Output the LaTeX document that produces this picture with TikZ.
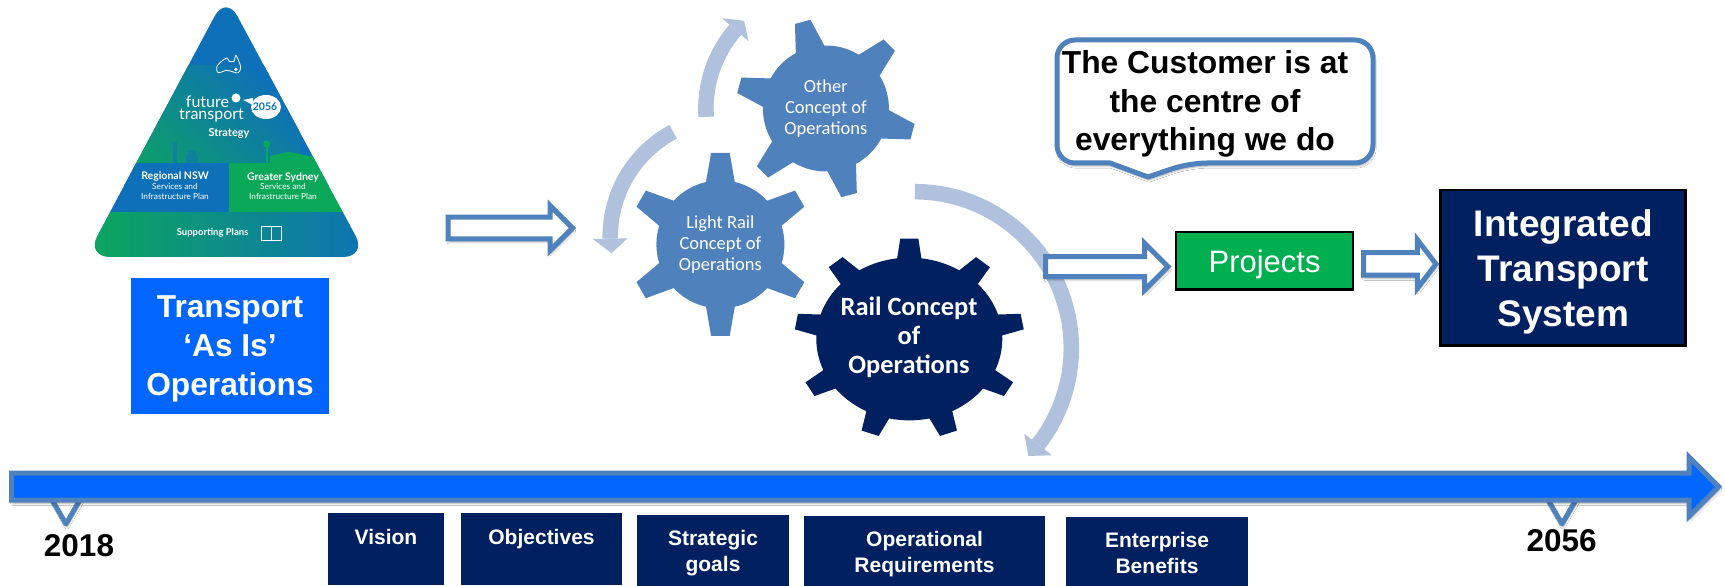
\documentclass[tikz,border=0pt]{standalone}
\usepackage{fontspec}
\setmainfont{Liberation Sans}
\newfontfamily\gearfont{Carlito}
\newfontfamily\logofont{Lato}
\usetikzlibrary{positioning,shapes.arrows,shadows.blur}

\definecolor{navy}{HTML}{002060}
\definecolor{steel}{HTML}{4F81BD}
\definecolor{pale}{HTML}{B0C1DD}
\definecolor{brightblue}{HTML}{0066FF}
\definecolor{projgreen}{HTML}{00B050}
\definecolor{logoblue}{HTML}{0E70B8}
\definecolor{logogreen}{HTML}{0CA85A}

\tikzset{
  softshadow/.style={blur shadow={shadow xshift=1pt,shadow yshift=-3pt,shadow blur steps=6,shadow opacity=35}},
  hollow/.style={single arrow,draw=steel,fill=white,line width=5pt,inner xsep=0pt,outer sep=0pt,
    single arrow head indent=0pt,softshadow,anchor=tail},
  darkbox/.style={fill=navy,inner sep=0pt,outer sep=0pt,minimum height=70pt},
  boxtext/.style={text=white,align=center,inner sep=0pt,font=\bfseries\fontsize{21}{26}\selectfont},
  yearlabel/.style={font=\bfseries\fontsize{31.5}{36}\selectfont},
  lightcog/.style={fill=steel},
  darkcog/.style={fill=navy},
  coglabel/.style={text=white,align=center,font=\gearfont\fontsize{18.5}{21}\selectfont},
  flowline/.style={draw=pale,line width=15.5pt},
  tickmark/.style={draw=steel,fill=white,line width=5pt,line join=round,softshadow},
  logotext/.style={text=white,align=center,inner sep=0pt}
}

% style, teeth, last tooth, start angle, body radius, tip radius, base half angle, tip half angle
\newcommand{\cogwheel}[8]{
  \fill[#1] (#4-#7:#5) \foreach \cog [evaluate=\cog as \ang using #4+\cog*360/#2] in {0,...,#3} {
    -- (\ang-#8:#6) -- (\ang+#8:#6) -- (\ang+#7:#5)
    arc[start angle=\ang+#7,end angle=\ang+360/#2-#7,radius=#5]
  } -- cycle;
}
% x, y, radius, from, to, tip
\newcommand{\flowarc}[6]{
  \begin{scope}[shift={(#1,#2)}]
    \draw[flowline] (#4:#3) arc[start angle=#4,end angle=#5,radius=#3];
    \fill[pale] (#5:#3+17.5) -- (#6:#3) -- (#5:#3-17.5) -- cycle;
  \end{scope}
}

\begin{document}
\begin{tikzpicture}[x=1pt,y=1pt]
  \useasboundingbox (0,0) rectangle (1725,586);
  \fill[white] (0,0) rectangle (1725,586);

  % strategy triangle
  \begin{scope}
    \clip (0,0) rectangle (362,586);
    \clip[rounded corners=24pt] (86,329) -- (226,591) -- (367,329) -- cycle;
    \fill[logoblue] (60,400) rectangle (380,600);
    \shade[bottom color=logogreen!85!logoblue,top color=logoblue,shading angle=-45] (100,415) rectangle (300,520);
    \fill[logogreen!85!logoblue] (60,400) rectangle (125,445);
    \fill[logoblue] (80,373) rectangle (229.3,423);
    \fill[logogreen] (229.3,373) rectangle (380,423);
    \shade[left color=logogreen,right color=logoblue] (80,329) rectangle (380,373);
    % skyline
    \fill[logogreen] (265.8,423) rectangle (267.6,440);
    \fill[logogreen] (266.7,442) circle (3.5pt);
    \fill[logogreen] (270,423) -- (270,430) -- (280,432) -- (288,434) -- (300,432) -- (318,428) -- (323,423) -- cycle;
    \fill[logoblue!70!logogreen] (173,423) rectangle (177,444);
    \fill[logoblue!70!logogreen] (186,423) rectangle (198,431);
    \fill[logoblue!70!logogreen] (192,431) circle (5pt);
  \end{scope}
  \draw[white,line width=.8pt] plot[smooth cycle] coordinates {(216.7,519) (220.7,524) (226.7,528) (229.3,524.7) (234,524.7) (236,530.7) (240.7,519) (238.3,513.3) (233.3,514) (226.7,515.7) (218.3,513.3)};
  \fill[white] (235.8,516.5) circle (1.8pt);
  \fill[white] (266,479) ellipse (15pt and 12pt);
  \fill[white] (236,488) circle (4.5pt);
  \fill[white] (253,481) -- (243,486) -- (253,488) -- cycle;
  \node[logotext,font=\logofont\fontsize{16}{12}\selectfont] (logoword) at (211.5,477) {future\kern8pt\\transport};
  \node[logotext,text=logoblue,font=\logofont\bfseries\fontsize{10.5}{12}\selectfont] (logoyear) at (265,479) {2056};
  \node[logotext,font=\logofont\bfseries\fontsize{11}{12}\selectfont] (strategyword) at (229,453) {Strategy};
  \node[logotext,font=\logofont\bfseries\fontsize{10.5}{12}\selectfont] (regionalword) at (175,409) {Regional NSW};
  \node[logotext,font=\logofont\fontsize{8.3}{9.5}\selectfont] (regionalplan) at (175,394.5) {Services and\\Infrastructure Plan};
  \node[logotext,font=\logofont\bfseries\fontsize{10.5}{12}\selectfont] (sydneyword) at (283,409) {Greater Sydney};
  \node[logotext,font=\logofont\fontsize{8.3}{9.5}\selectfont] (sydneyplan) at (283,394.5) {Services and\\Infrastructure Plan};
  \node[logotext,font=\logofont\bfseries\fontsize{9.5}{12}\selectfont] (supportword) at (212.6,353) {Supporting Plans};
  \draw[white,line width=.7pt] (261,346) rectangle (271,360) (271,346) rectangle (281,360);

  \node[fill=brightblue,inner sep=0pt,outer sep=0pt,minimum width=198pt,minimum height=136pt] (asis) at (230,240) {};
  \node[boxtext,font=\bfseries\fontsize{31.7}{39}\selectfont,yshift=-3pt] (asistext) at (asis) {Transport\\‘As Is’\\Operations};

  \node[hollow,inner ysep=8.35pt,minimum height=124.5pt,minimum width=44pt,single arrow head extend=11.6pt] (intoconcepts) at (448,358) {};

  % circular arrows
  \flowarc{914.8}{237.8}{156.5}{90}{-38}{-43.5}
  \flowarc{728.9}{349.4}{118.7}{118}{181}{188}
  \flowarc{825.9}{477.5}{120}{184}{139}{133}

  % gears
  \cogwheel{lightcog,shift={(825.9,477.5)}}{6}{5}{105}{63}{90}{13.5}{5.1}
  \cogwheel{lightcog,shift={(720.4,341.6)}}{6}{5}{90}{64}{92}{13}{5.8}
  \cogwheel{darkcog,shift={(909.3,247)},yscale=.875}{9}{8}{90}{93}{115}{7.5}{4.5}
  \node[coglabel] (othercog) at (825.9,477.5) {Other\\Concept of\\Operations};
  \node[coglabel] (lightrailcog) at (720.4,341.6) {Light Rail\\Concept of\\Operations};
  \node[coglabel,font=\gearfont\bfseries\fontsize{26.4}{29}\selectfont] (railcog) at (909,249) {Rail Concept\\of\\Operations};

  % customer bubble
  \draw[draw=steel,fill=white,line width=5pt,softshadow] [rounded corners=18pt] (1110,423) -- (1057,423) -- (1057,546) -- (1373,546) -- (1373,423) -- (1189,423) [sharp corners] -- (1148,409) -- cycle;
  \node[font=\bfseries\fontsize{31.8}{38.5}\selectfont,align=center] (customer) at (1205,482) {The Customer is at\\the centre of\\everything we do};

  \node[hollow,inner ysep=7.5pt,minimum height=122.5pt,minimum width=46pt,single arrow head extend=13.5pt] (toprojects) at (1045.5,319.3) {};
  \node[draw=black,fill=projgreen,line width=2.5pt,inner sep=0pt,outer sep=0pt,minimum width=177pt,minimum height=57.5pt] (projects) at (1264.6,325.3) {};
  \node[text=white,inner sep=0pt,font=\fontsize{31}{36}\selectfont,yshift=-4pt] (projectstext) at (projects) {Projects};
  \node[hollow,inner ysep=8.75pt,minimum height=72.5pt,minimum width=48pt,single arrow head extend=13.2pt,single arrow tip angle=105] (tosystem) at (1363.5,322) {};
  \node[draw=black,fill=navy,line width=2.5pt,inner sep=0pt,outer sep=0pt,minimum width=245pt,minimum height=155.5pt] (system) at (1563.2,318) {};
  \node[boxtext,font=\bfseries\fontsize{37}{45}\selectfont,yshift=-4pt] (systemtext) at (system) {Integrated\\Transport\\System};

  % timeline
  \draw[tickmark] (51,88) -- (81,88) -- (66,62) -- cycle;
  \draw[tickmark] (1547,88) -- (1577,88) -- (1562,62) -- cycle;
  \node[single arrow,draw=steel,fill=brightblue,line width=5pt,inner xsep=0pt,inner ysep=11pt,outer sep=0pt,anchor=tail,softshadow,
    minimum height=1707pt,minimum width=58pt,single arrow head extend=16pt,single arrow head indent=0pt] (timeline) at (11.7,99.3) {};
  \node[yearlabel] (startyear) at (79,40) {2018};
  \node[yearlabel] (endyear) at (1561.7,45) {2056};

  \node[darkbox,minimum width=116pt,minimum height=72pt] (vision) at (386,37) {};
  \node[darkbox,minimum width=161pt,minimum height=72pt,right=17pt of vision] (objectives) {};
  \node[darkbox,minimum width=152pt,minimum height=71pt,right=15pt of objectives,yshift=-1.5pt] (goals) {};
  \node[darkbox,minimum width=241pt,right=15pt of goals,yshift=-.5pt] (requirements) {};
  \node[darkbox,minimum width=182pt,minimum height=69pt,right=21pt of requirements,yshift=-.5pt] (benefits) {};
  \node[boxtext,yshift=-1pt] (visiontext) at (vision) {Vision\\~};
  \node[boxtext,yshift=-1pt] (objectivestext) at (objectives) {Objectives\\~};
  \node[boxtext,yshift=-3pt] (goalstext) at (goals) {Strategic\\goals};
  \node[boxtext,yshift=-3pt] (requirementstext) at (requirements) {Operational\\Requirements};
  \node[boxtext,yshift=-1.5pt] (benefitstext) at (benefits) {Enterprise\\Benefits};
\end{tikzpicture}
\end{document}
